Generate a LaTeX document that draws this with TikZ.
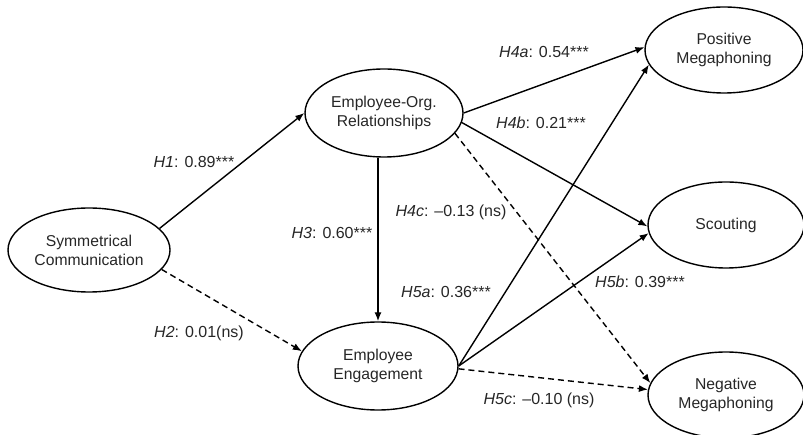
\documentclass[tikz,border=0pt]{standalone}
\usepackage{fontspec}
\setmainfont{Liberation Sans}
\usetikzlibrary{shapes.geometric,arrows.meta}
\begin{document}
\begin{tikzpicture}[x=1pt,y=-1pt,
  every node/.style={text=black!85},
  var/.style={draw=black, ellipse, line width=1.4pt, inner sep=0pt, align=center,
    font=\fontsize{15.7}{19}\selectfont},
  conn/.style={line width=1.4pt, -{Latex[length=9pt,width=7pt]}},
  nsconn/.style={conn, dash pattern=on 6pt off 4pt},
  lbl/.style={inner sep=1pt, font=\fontsize{16}{19}\selectfont}]
\path[use as bounding box] (0,0) rectangle (803,435);
\node[var, minimum width=162pt, minimum height=84pt] (sc) at (89,250) {Symmetrical\\Communication};
\node[var, minimum width=158pt, minimum height=88pt] (eor) at (384,113) {Employee-Org.\\Relationships};
\node[var, minimum width=160pt, minimum height=88pt] (ee) at (378,366) {Employee\\Engagement};
\node[var, minimum width=158pt, minimum height=86pt] (pm) at (724,50) {Positive\\Megaphoning};
\node[var, minimum width=156pt, minimum height=86pt] (sco) at (726,225) {Scouting};
\node[var, minimum width=156pt, minimum height=86pt] (nm) at (726,395) {Negative\\Megaphoning};

\draw[conn] (sc.17) -- (eor.west);
\draw[nsconn] (sc.-15) -- (ee.169);
\draw[conn] (ee.north |- eor.south) -- (ee.north);
\draw[conn] (eor.east) -- (pm.178);
\draw[conn] (eor.-7) -- (sco.181);
\draw[nsconn] (eor.-16) -- (nm.171);
\draw[conn] (ee.east) -- (pm.191);
\draw[conn] (ee.east) -- (sco.186);
\draw[nsconn] (ee.-2) -- (nm.176);

\node[lbl] (l1) at (194,162) {\textit{H1}: 0.89***};
\node[lbl] (l2) at (199,333) {\textit{H2}: 0.01(ns)};
\node[lbl] (l3) at (332,233) {\textit{H3}: 0.60***};
\node[lbl] (l4a) at (544,52) {\textit{H4a}: 0.54***};
\node[lbl] (l4b) at (541,123) {\textit{H4b}: 0.21***};
\node[lbl] (l4c) at (451,212) {\textit{H4c}: –0.13 (ns)};
\node[lbl] (l5a) at (446,292) {\textit{H5a}: 0.36***};
\node[lbl] (l5b) at (640,282) {\textit{H5b}: 0.39***};
\node[lbl] (l5c) at (539,400) {\textit{H5c}: –0.10 (ns)};
\end{tikzpicture}
\end{document}
